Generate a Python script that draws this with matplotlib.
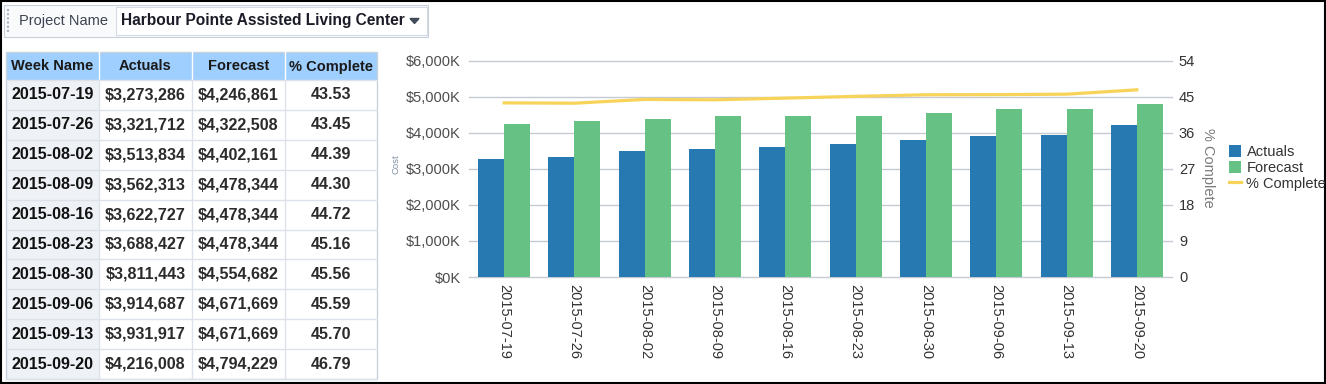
import matplotlib
matplotlib.use("Agg")
import numpy as np
import matplotlib.pyplot as plt
from matplotlib.patches import Rectangle, Polygon
from matplotlib.ticker import FuncFormatter

# Data
weeks = ["2015-07-19", "2015-07-26", "2015-08-02", "2015-08-09", "2015-08-16",
         "2015-08-23", "2015-08-30", "2015-09-06", "2015-09-13", "2015-09-20"]
actuals = [3273286, 3321712, 3513834, 3562313, 3622727,
           3688427, 3811443, 3914687, 3931917, 4216008]
forecast = [4246861, 4322508, 4402161, 4478344, 4478344,
            4478344, 4554682, 4671669, 4671669, 4794229]
pct_complete = [43.53, 43.45, 44.39, 44.30, 44.72,
                45.16, 45.56, 45.59, 45.70, 46.79]
table_headers = ["Week Name", "Actuals", "Forecast", "% Complete"]
project_name = "Harbour Pointe Assisted Living Center"

W, H = 1326, 384
plt.rcParams['font.family'] = ['Liberation Sans', 'DejaVu Sans']

fig = plt.figure(figsize=(W / 100, H / 100), dpi=100)


def fx(px):
    return px / W


def fy(py):
    return 1 - py / H


# background layer in pixel coordinates (y down)
bg = fig.add_axes([0, 0, 1, 1])
bg.set_xlim(0, W)
bg.set_ylim(H, 0)
bg.axis('off')

# outer frame
bg.add_patch(Rectangle((1, 1), W - 2.5, H - 2.5, fill=False, ec='black', lw=1.5))

# filter toolbar
bg.add_patch(Rectangle((4, 5), 424, 32, fc='#f9fafc', ec='#c8d0da', lw=0.8))
bg.plot([8, 8], [9, 32], color='#a9b0bb', lw=1.5, ls=(0, (1, 1)))
bg.text(19, 21, "Project Name", fontsize=10.5, color='#3b4350', va='center', ha='left')
bg.add_patch(Rectangle((116, 7), 311, 28, fc='white', ec='#d5dbe3', lw=0.8))
bg.text(121, 21, project_name, fontsize=11.2, fontweight='bold', color='#1c1c28',
        va='center', ha='left')
bg.add_patch(Polygon([(410, 18.5), (419, 18.5), (414.5, 23.5)], closed=True, color='#404a58'))

# table
cols = [6, 99, 192, 285, 377]
hdr_top, hdr_bot = 52, 80
row_h = 29.9
n = len(weeks)
tbl_bot = hdr_bot + n * row_h

for c in range(4):
    bg.add_patch(Rectangle((cols[c], hdr_top), cols[c + 1] - cols[c], hdr_bot - hdr_top,
                           fc='#9ecfff', ec='none'))
    bg.text((cols[c] + cols[c + 1]) / 2, (hdr_top + hdr_bot) / 2 + 0.5, table_headers[c],
            fontsize=10.5, fontweight='bold', color='#1a1a1a', ha='center', va='center')
for c in range(1, 4):
    bg.plot([cols[c], cols[c]], [hdr_top, hdr_bot], color='white', lw=1)

bg.add_patch(Rectangle((cols[0], hdr_bot), cols[1] - cols[0], n * row_h, fc='#eef1f6', ec='none'))
for i in range(n + 1):
    yy = hdr_bot + i * row_h
    bg.plot([cols[0], cols[-1]], [yy, yy], color='#dde2ea', lw=1)
for c in range(1, 4):
    bg.plot([cols[c], cols[c]], [hdr_bot, tbl_bot], color='#dde2ea', lw=1)
bg.add_patch(Rectangle((cols[0], hdr_top), cols[-1] - cols[0], tbl_bot - hdr_top,
                       fill=False, ec='#c8d2dd', lw=1))

for i in range(n):
    yc = hdr_bot + (i + 0.5) * row_h
    cells = [weeks[i], "${:,}".format(actuals[i]), "${:,}".format(forecast[i]),
             "{:.2f}".format(pct_complete[i])]
    for c in range(4):
        bg.text((cols[c] + cols[c + 1]) / 2, yc, cells[c], fontsize=11.6, fontweight='bold',
                color='#111111' if c == 0 else '#2b2b2b', ha='center', va='center')

# chart
ax = fig.add_axes([fx(469), fy(277), (1172 - 469) / W, (277 - 61) / H])
ax.set_facecolor('none')
x = np.arange(n)
w = 0.37
b1 = ax.bar(x - w / 2, actuals, w, color='#2779b2', label='Actuals', zorder=2)
b2 = ax.bar(x + w / 2, forecast, w, color='#66c184', label='Forecast', zorder=2)
ax.set_xlim(-0.5, n - 0.5)
ax.set_ylim(0, 6000000)
ax.set_yticks(np.arange(0, 6000001, 1000000))
ax.yaxis.set_major_formatter(FuncFormatter(lambda v, p: "${:,.0f}K".format(v / 1000)))
ax.set_xticks(x, weeks, rotation=270)
ax.tick_params(axis='y', length=0, pad=6, labelsize=10.5, labelcolor='#4d4d4d')
ax.tick_params(axis='x', length=0, pad=5, labelsize=10.5, labelcolor='#333333')
ax.grid(axis='y', color='#c5cad3', lw=1)
ax.set_axisbelow(True)
for gl in ax.get_ygridlines():
    gl.set_clip_on(False)
for s in ax.spines.values():
    s.set_visible(False)
ax.set_ylabel("Cost", fontsize=6.8, color='#8090a8')
ax.yaxis.set_label_coords((396 - 469) / 703, (277 - 164) / 216)
ax.yaxis.label.set(ha='center', va='center', rotation_mode='anchor')

ax2 = ax.twinx()
ln, = ax2.plot(x, pct_complete, color='#f8d35a', lw=2.3, label='% Complete', zorder=3)
ax2.set_ylim(0, 54)
ax2.set_yticks(np.arange(0, 55, 9))
ax2.tick_params(axis='y', length=0, pad=5, labelsize=10.5, labelcolor='#333333')
for s in ax2.spines.values():
    s.set_visible(False)
ax2.set_ylabel("% Complete", fontsize=10.5, color='#7a7a7a', rotation=270)
ax2.yaxis.set_label_coords((1208 - 469) / 703, (277 - 168) / 216)
ax2.yaxis.label.set(ha='center', va='center', rotation_mode='anchor')

leg = fig.legend([b1, b2, ln], ['Actuals', 'Forecast', '% Complete'],
                 loc='center left', bbox_to_anchor=(fx(1229), fy(168)),
                 frameon=False, fontsize=10.5, handlelength=0.85, handleheight=0.85,
                 handletextpad=0.35, labelspacing=0.12, borderpad=0, borderaxespad=0)
for t in leg.get_texts():
    t.set_color('#333333')

fig.savefig('out.png', dpi=100)
